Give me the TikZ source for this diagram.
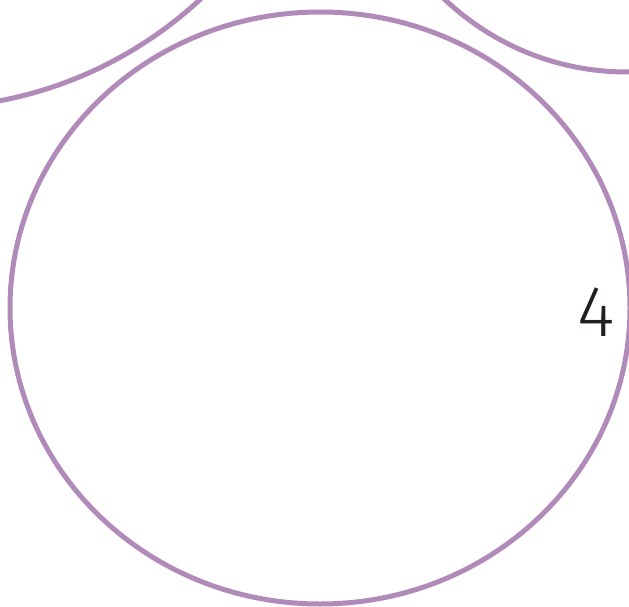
\documentclass[tikz,border=0pt]{standalone}
\usepackage{fontspec}
\setmainfont{Fira Sans Light}
\usetikzlibrary{shapes.geometric,positioning}
\definecolor{ringcolor}{HTML}{B08BB9}
\definecolor{labelcolor}{HTML}{231F20}
\tikzset{
  ring/.style={draw=ringcolor,line width=5pt,inner sep=0pt,outer sep=0pt},
  ring label/.style={text=labelcolor,font=\fontsize{72}{72}\selectfont,inner sep=0pt}
}
\begin{document}
\begin{tikzpicture}[x=1pt,y=1pt]
  \useasboundingbox (0,0) rectangle (629,-607);
  \clip (0,0) rectangle (629,-607);
  \node[ring,circle,minimum size=816pt] (ringA) at (-77,300) {};
  \node[ring,circle,minimum size=530pt] (ringB) at (627,193) {};
  \node[ring,ellipse,minimum width=620pt,minimum height=592pt] (main) at (320,-308) {};
  \node[ring label,anchor=east] (four) at ([xshift=-15pt,yshift=-4pt]main.east) {4};
\end{tikzpicture}
\end{document}
